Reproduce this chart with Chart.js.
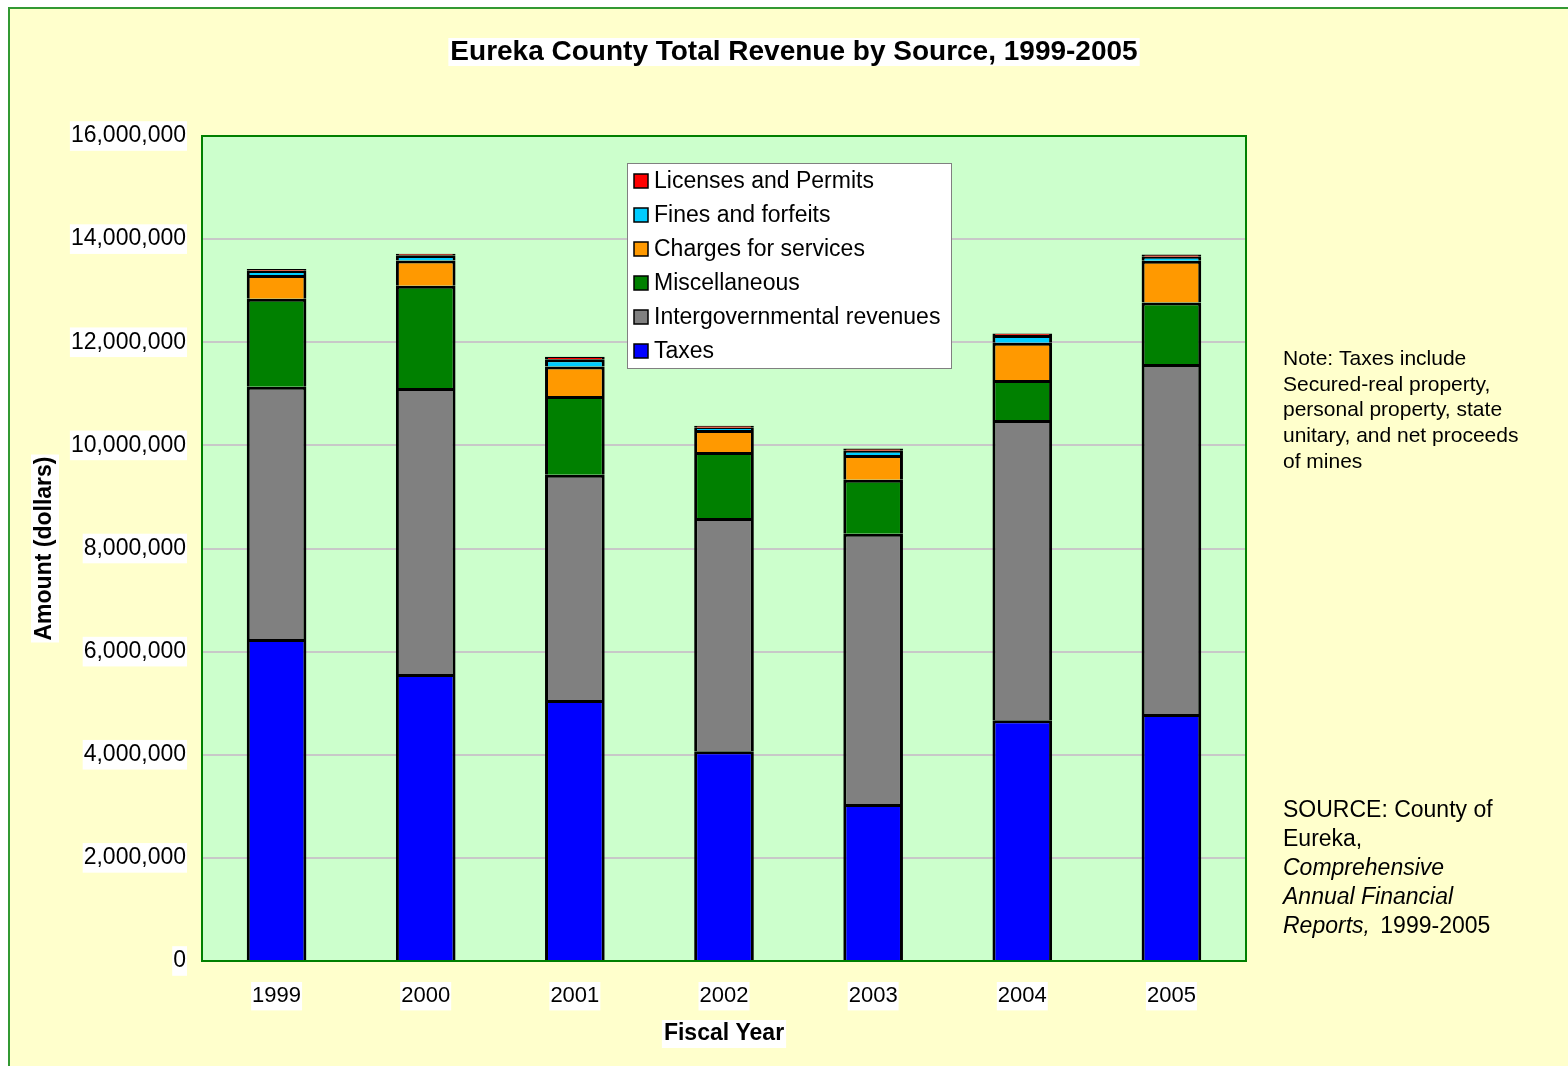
<!DOCTYPE html>
<html>
<head>
<meta charset="utf-8">
<title>Eureka County Total Revenue by Source, 1999-2005</title>
<script src="https://cdn.jsdelivr.net/npm/chart.js@4.4.1/dist/chart.umd.min.js"></script>
<style>
  html, body { margin: 0; padding: 0; background: #ffffff; }
  #wrap { position: relative; width: 1568px; height: 1066px; }
</style>
</head>
<body>
<div id="wrap"><canvas id="chart" width="1568" height="1066"></canvas></div>
<script>
// Eureka County revenue by source (dollars)
var years = ["1999", "2000", "2001", "2002", "2003", "2004", "2005"];
var taxes = [6245000, 5565000, 5060000, 4070000, 3045000, 4670000, 4790000];
var intergov = [4890000, 5550000, 4370000, 4520000, 5240000, 5820000, 6790000];
var misc = [1710000, 1980000, 1530000, 1280000, 1050000, 780000, 1190000];
var charges = [460000, 490000, 570000, 430000, 480000, 720000, 810000];
var fines = [80000, 100000, 140000, 40000, 80000, 150000, 80000];
var licenses = [35000, 30000, 50000, 40000, 45000, 30000, 40000];
var yTicks = [0, 2000000, 4000000, 6000000, 8000000, 10000000, 12000000, 14000000, 16000000];

var FONT = "'Liberation Sans', Arial, sans-serif";

var noteLines = ["Note: Taxes include", "Secured-real property,", "personal property, state",
  "unitary, and net proceeds", "of mines"];

function textBox(ctx, text, x, y, font, align) {
  ctx.save();
  ctx.font = font;
  ctx.textBaseline = "middle";
  ctx.textAlign = align || "center";
  var w = ctx.measureText(text).width;
  var left = align === "left" ? x : x - w / 2;
  ctx.fillStyle = "#ffffff";
  ctx.fillRect(left - 2, y - 14, w + 4, 28);
  ctx.fillStyle = "#000000";
  ctx.fillText(text, x, y);
  ctx.restore();
}

var decor = {
  id: "decor",
  beforeDraw: function (chart) {
    var ctx = chart.ctx, a = chart.chartArea;
    ctx.save();
    ctx.fillStyle = "#ffffff";
    ctx.fillRect(0, 0, chart.width, chart.height);
    ctx.fillStyle = "#FFFFCC";
    ctx.fillRect(8, 7, chart.width, chart.height);
    ctx.strokeStyle = "#339933";
    ctx.lineWidth = 2;
    ctx.beginPath();
    ctx.moveTo(9, chart.height + 2);
    ctx.lineTo(9, 8);
    ctx.lineTo(chart.width + 2, 8);
    ctx.stroke();
    ctx.fillStyle = "#CCFFCC";
    ctx.fillRect(a.left, a.top, a.right - a.left, a.bottom - a.top);
    ctx.restore();
  },
  afterDatasetsDraw: function (chart) {
    var ctx = chart.ctx, a = chart.chartArea;
    ctx.save();
    ctx.strokeStyle = "#008000";
    ctx.lineWidth = 2;
    ctx.strokeRect(a.left, a.top, a.right - a.left, a.bottom - a.top);
    ctx.restore();
  },
  afterDraw: function (chart) {
    var ctx = chart.ctx, a = chart.chartArea;
    // title and axis titles with white backdrops
    textBox(ctx, "Eureka County Total Revenue by Source, 1999-2005", 794, 52, "bold 28px " + FONT);
    textBox(ctx, "Fiscal Year", (a.left + a.right) / 2, 1034, "bold 23px " + FONT);
    ctx.save();
    ctx.translate(45, (a.top + a.bottom) / 2);
    ctx.rotate(-Math.PI / 2);
    textBox(ctx, "Amount (dollars)", 0, 0, "bold 23px " + FONT);
    ctx.restore();

    // legend box inside the plot, reversed order
    ctx.save();
    ctx.fillStyle = "#ffffff";
    ctx.fillRect(627, 163, 324, 205);
    ctx.strokeStyle = "#808080";
    ctx.lineWidth = 1;
    ctx.strokeRect(627.5, 163.5, 324, 205);
    ctx.font = "23px " + FONT;
    ctx.textBaseline = "middle";
    ctx.textAlign = "left";
    var ds = chart.data.datasets.slice().reverse();
    ds.forEach(function (d, i) {
      var cy = 181 + i * 34;
      ctx.fillStyle = d.backgroundColor;
      ctx.fillRect(634, cy - 7, 14, 14);
      ctx.strokeStyle = "#000000";
      ctx.lineWidth = 1.5;
      ctx.strokeRect(634, cy - 7, 14, 14);
      ctx.fillStyle = "#000000";
      ctx.fillText(d.label, 654, cy + 1);
    });
    ctx.restore();

    // note and source on the right
    ctx.save();
    ctx.fillStyle = "#000000";
    ctx.textBaseline = "middle";
    ctx.textAlign = "left";
    ctx.font = "21px " + FONT;
    noteLines.forEach(function (t, i) {
      ctx.fillText(t, 1283, 359 + i * 25.8);
    });
    ctx.font = "23px " + FONT;
    ctx.fillText("SOURCE: County of", 1283, 811);
    ctx.fillText("Eureka,", 1283, 840);
    ctx.font = "italic 23px " + FONT;
    ctx.fillText("Comprehensive", 1283, 869);
    ctx.fillText("Annual Financial", 1283, 898);
    ctx.fillText("Reports,", 1283, 927);
    var w = ctx.measureText("Reports, ").width;
    ctx.font = "23px " + FONT;
    ctx.fillText("1999-2005", 1283 + w + 4, 927);
    ctx.restore();
  }
};

function series(label, data, color) {
  return {
    label: label,
    data: data,
    backgroundColor: color,
    borderColor: "#000000",
    borderWidth: 3,
    barPercentage: 0.4,
    categoryPercentage: 1.0
  };
}

new Chart(document.getElementById("chart").getContext("2d"), {
  type: "bar",
  data: {
    labels: years,
    datasets: [
      series("Taxes", taxes, "#0000FF"),
      series("Intergovernmental revenues", intergov, "#808080"),
      series("Miscellaneous", misc, "#008000"),
      series("Charges for services", charges, "#FF9900"),
      series("Fines and forfeits", fines, "#00CCFF"),
      series("Licenses and Permits", licenses, "#FF0000")
    ]
  },
  options: {
    responsive: false,
    animation: false,
    layout: { padding: { left: 10, top: 136, right: 322, bottom: 0 } },
    plugins: {
      legend: { display: false },
      title: { display: false },
      tooltip: { enabled: false }
    },
    scales: {
      x: {
        stacked: true,
        grid: { display: false, drawTicks: false },
        border: { display: false },
        ticks: {
          color: "#000000",
          font: { family: FONT, size: 22 },
          padding: 22,
          showLabelBackdrop: true,
          backdropColor: "#ffffff",
          backdropPadding: 1
        },
        afterFit: function (s) { s.height = 105; }
      },
      y: {
        stacked: true,
        min: 0,
        max: 16000000,
        afterBuildTicks: function (s) {
          s.ticks = yTicks.map(function (v) { return { value: v }; });
        },
        grid: { color: "#c8c8c8", lineWidth: 2, drawTicks: false },
        border: { display: false },
        ticks: {
          color: "#000000",
          font: { family: FONT, size: 23 },
          padding: 16,
          showLabelBackdrop: true,
          backdropColor: "#ffffff",
          backdropPadding: 1,
          callback: function (v) { return Number(v).toLocaleString("en-US"); }
        },
        afterFit: function (s) { s.width = 192; }
      }
    }
  },
  plugins: [decor]
});
</script>
</body>
</html>
